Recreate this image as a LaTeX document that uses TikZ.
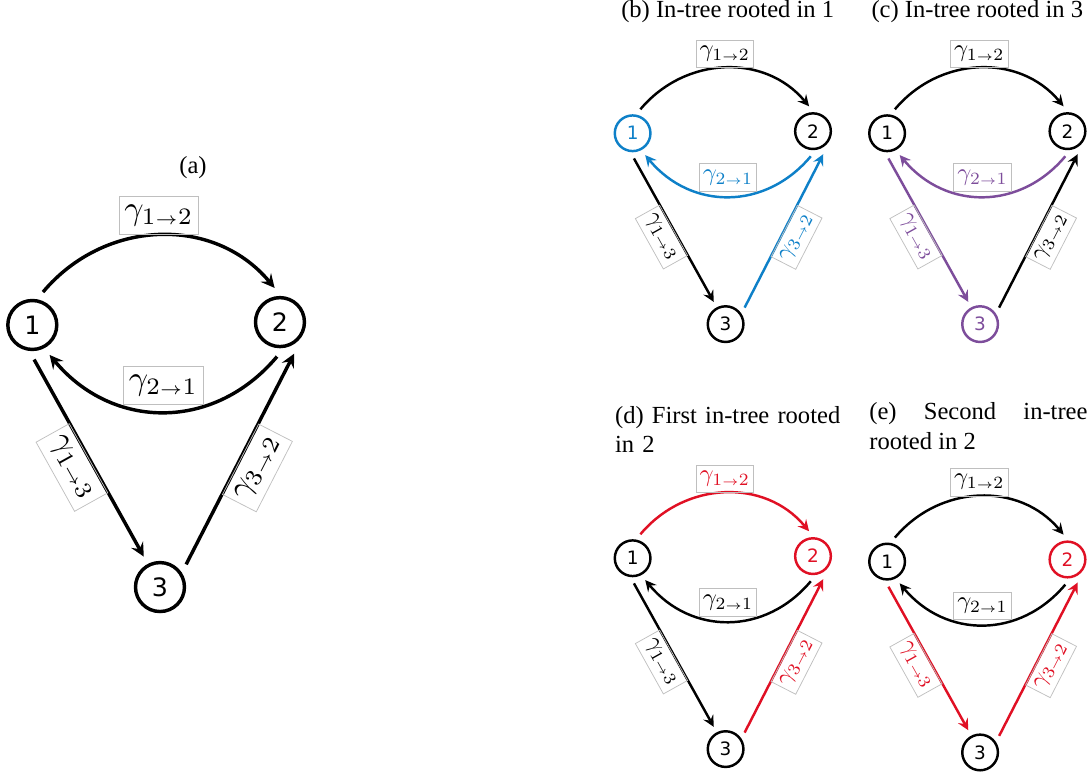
\documentclass[tikz,border=0pt]{standalone}
\usepackage[no-math]{fontspec}
\setmainfont{Liberation Serif}
\newfontfamily\statefont{DejaVu Sans}
\definecolor{treeblue}{RGB}{14,128,200}
\definecolor{treepurple}{RGB}{125,77,155}
\definecolor{treered}{RGB}{224,16,36}
\newcommand{\ra}[2]{\gamma_{#1{\scriptscriptstyle\to}#2}}

\begin{document}
\begin{tikzpicture}[>=stealth,line width=1pt,
  state/.style={circle,draw,minimum size=0.51cm,inner sep=0pt,outer sep=3pt,font=\statefont\fontsize{7.5}{9}\selectfont},
  rate/.style={draw=black!25,line width=0.3pt,inner xsep=1.5pt,inner ysep=2.5pt},
  subcap/.style={inner sep=0pt}]
\useasboundingbox (0,0) rectangle (15.59,-11.05);

% (a) full graph
\node[subcap] (capa) at (2.76,-2.40) {(a)};
\begin{scope}[shift={(0.462,-4.648)},scale=1.373,transform shape,line width=1.4pt]
\node[state] (a1) at (0, 0)   {1};
\node[state] (a2) at (2.58, 0.03) {2};
\node[state] (a3) at (1.33, -2.73) {3};
\path[->] (a1.72) edge [out=50,in=130,looseness=1.05] node [rate,above] {$\ra{1}{2}$} (a2.99);
\path[->] (a2.265) edge [out=-130,in=-50,looseness=1.1] node [rate,above=2pt] {$\ra{2}{1}$} (a1.-60);
\path[->] (a1.-87) edge node [rate,sloped,below] {$\ra{1}{3}$} (a3.118);
\path[->] (a3.41) edge node [rate,sloped,below] {$\ra{3}{2}$} (a2.-66);
\end{scope}

% (b) rooted in 1
\node[subcap] (capb) at (10.408,-0.167) {(b) In-tree rooted in 1};
\begin{scope}[shift={(9.048,-1.906)}]
\node[state,treeblue] (b1) at (0, 0)   {1};
\node[state] (b2) at (2.58, 0.03) {2};
\node[state] (b3) at (1.33, -2.73) {3};
\path[->] (b1.72) edge [out=50,in=130,looseness=1.05] node [rate,above] {$\ra{1}{2}$} (b2.99);
\path[->,treeblue] (b2.265) edge [out=-130,in=-50,looseness=1.1] node [rate,above=2pt] {$\ra{2}{1}$} (b1.-60);
\path[->] (b1.-87) edge node [rate,sloped,below] {$\ra{1}{3}$} (b3.118);
\path[->,treeblue] (b3.41) edge node [rate,sloped,below] {$\ra{3}{2}$} (b2.-66);
\end{scope}

% (c) rooted in 3
\node[subcap] (capc) at (13.978,-0.167) {(c) In-tree rooted in 3};
\begin{scope}[shift={(12.688,-1.906)}]
\node[state] (c1) at (0, 0)   {1};
\node[state] (c2) at (2.58, 0.03) {2};
\node[state,treepurple] (c3) at (1.33, -2.73) {3};
\path[->] (c1.72) edge [out=50,in=130,looseness=1.05] node [rate,above] {$\ra{1}{2}$} (c2.99);
\path[->,treepurple] (c2.265) edge [out=-130,in=-50,looseness=1.1] node [rate,above=2pt] {$\ra{2}{1}$} (c1.-60);
\path[->,treepurple] (c1.-87) edge node [rate,sloped,below] {$\ra{1}{3}$} (c3.118);
\path[->] (c3.41) edge node [rate,sloped,below] {$\ra{3}{2}$} (c2.-66);
\end{scope}

% (d) first tree rooted in 2
\node[subcap,anchor=north west,text width=3.3cm,align=left] (capd) at (8.78,-5.792) {(d) First in-tree rooted\\in 2};
\begin{scope}[shift={(9.048,-7.984)}]
\node[state] (d1) at (0, 0)   {1};
\node[state,treered] (d2) at (2.58, 0.03) {2};
\node[state] (d3) at (1.33, -2.73) {3};
\path[->,treered] (d1.72) edge [out=50,in=130,looseness=1.05] node [rate,above] {$\ra{1}{2}$} (d2.99);
\path[->] (d2.265) edge [out=-130,in=-50,looseness=1.1] node [rate,above=2pt] {$\ra{2}{1}$} (d1.-60);
\path[->] (d1.-87) edge node [rate,sloped,below] {$\ra{1}{3}$} (d3.118);
\path[->,treered] (d3.41) edge node [rate,sloped,below] {$\ra{3}{2}$} (d2.-66);
\end{scope}

% (e) second tree rooted in 2
\node[subcap,anchor=north west,text width=3.12cm,align=justify] (cape) at (12.417,-5.744) {(e)\hfill Second\hfill in-tree\\rooted in 2};
\begin{scope}[shift={(12.688,-8.032)}]
\node[state] (e1) at (0, 0)   {1};
\node[state,treered] (e2) at (2.58, 0.03) {2};
\node[state] (e3) at (1.33, -2.73) {3};
\path[->] (e1.72) edge [out=50,in=130,looseness=1.05] node [rate,above] {$\ra{1}{2}$} (e2.99);
\path[->] (e2.265) edge [out=-130,in=-50,looseness=1.1] node [rate,above=2pt] {$\ra{2}{1}$} (e1.-60);
\path[->,treered] (e1.-87) edge node [rate,sloped,below] {$\ra{1}{3}$} (e3.118);
\path[->,treered] (e3.41) edge node [rate,sloped,below] {$\ra{3}{2}$} (e2.-66);
\end{scope}
\end{tikzpicture}
\end{document}
